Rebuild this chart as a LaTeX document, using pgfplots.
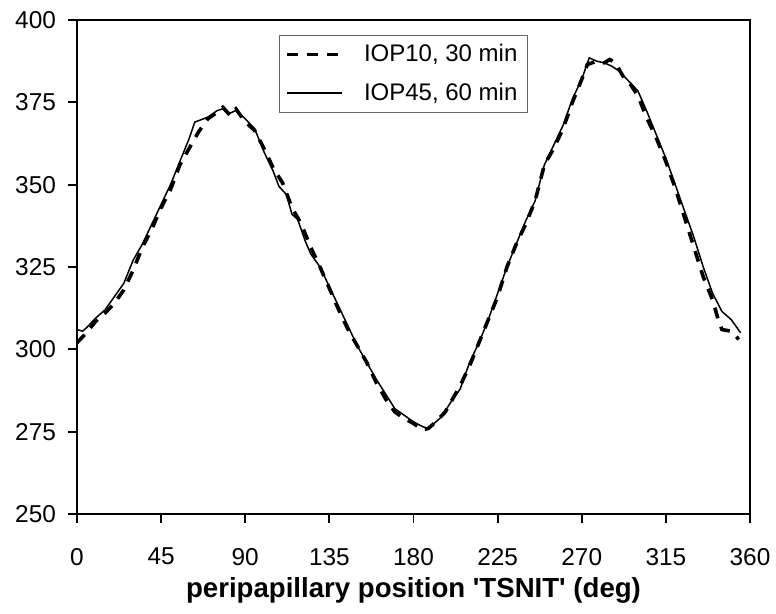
\documentclass[border=0pt]{standalone}
\usepackage{fontspec}
\setmainfont{Liberation Sans}
\newfontfamily\plainsans{Liberation Sans}
\usepackage{pgfplots}
\pgfplotsset{compat=1.18}

% IOP45, 60 min (solid)
\pgfplotstableread{
x y
0 306
3 305.5
5 306.5
10 309.5
15 312
20 316
25 320
30 327
35 332
40 338
45 344
50 350
55 357
60 364
63 369
70 370.5
75 372.5
78 373
81 371.5
85 372.5
90 370
95 367
100 360
105 354
108 349.5
112 347
115 341
118 339.5
122 333
125 329
130 325
135 319
140 313
145 307
150 301
155 296
160 291
165 286.5
170 282
175 280
180 278
185 276.5
188 276
190 277
195 279.5
200 284
205 288
210 296
215 302
220 309
225 317
230 325
235 332
240 339
245 345
250 356
255 362
260 368
265 376
270 382
274 388.5
278 387.5
282 387
286 386
290 384.5
295 381.5
300 378.5
305 372
310 365
315 358
320 350
325 342
330 334
335 325
340 317
345 311.5
350 309
355 305
}\solid

% IOP10, 30 min (dashed)
\pgfplotstableread{
x y
0 302
5 305
10 308.5
15 311
20 314
25 318
30 324
35 331
40 336.5
45 343
50 348.5
55 356
60 361
65 366
70 370
75 372
78 373.5
82 371
85 373
90 369
95 366.5
100 361
105 355
110 350.5
115 343
120 338
125 331
130 325
135 318.5
140 312
145 306
150 301
155 296
160 290
165 285
170 281
175 279
180 277.5
185 275.5
188 276
192 278
197 281
200 284
205 289
210 295
215 302
220 309
225 316
230 325
235 332
240 338
245 345
250 356
255 361
260 367
265 375
270 382
273 386.5
278 387.5
282 387
285 388
288 387
292 383
296 380.5
300 377
305 370
310 364
315 357
320 349
325 340
330 331
335 322
340 315
343 309
345 306
350 305.5
354 303
}\dashed

\begin{document}
\begin{tikzpicture}
\begin{axis}[
    name=ax,
    width=336.5pt, height=247pt,
    scale only axis,
    xmin=0, xmax=360, ymin=250, ymax=400,
    xtick={0,45,...,360},
    ytick={250,275,...,400},
    tick align=outside,
    major tick length=4.5pt,
    axis line style={line width=0.9pt},
    every tick/.style={line width=0.9pt, black},
    xtick pos=bottom, ytick pos=left,
    /pgf/number format/assume math mode=true,
    tick label style={font=\fontsize{12.2}{14}\selectfont},
    xticklabel style={yshift=-9pt},
    yticklabel style={xshift=-2.5pt},
    xlabel={\plainsans\bfseries peripapillary position 'TSNIT' (deg)},
    xlabel style={font=\fontsize{13.8}{16}\selectfont, yshift=1pt},
    legend style={at={(0.30,0.97)}, anchor=north west,
        draw=black!60, line width=0.5pt,
        font=\fontsize{12}{14}\selectfont,
        inner xsep=3pt, inner ysep=2.5pt,
        row sep=5pt},
    legend cell align=left,
    legend image code/.code={\draw[#1] (0pt,0pt) -- (27.5pt,0pt); \path (35.5pt,0pt);},
]
\addplot[black, line width=1.8pt, dash pattern=on 5.5pt off 4.5pt] table {\dashed};
\addlegendentry{IOP10, 30 min}
\addplot[black, line width=0.75pt] table {\solid};
\addlegendentry{IOP45, 60 min}
\end{axis}
\pgfresetboundingbox
\path ([shift={(-38.5pt,-50pt)}]ax.south west) rectangle ([shift={(13pt,10pt)}]ax.north east);
\end{tikzpicture}
\end{document}
